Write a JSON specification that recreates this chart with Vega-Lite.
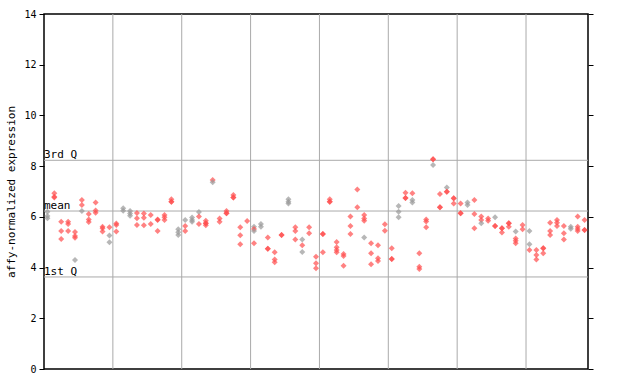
{
  "$schema": "https://vega.github.io/schema/vega-lite/v6.json",
  "autosize": "none",
  "width": 544,
  "height": 355,
  "padding": {"left": 44, "top": 14, "right": 52, "bottom": 15},
  "background": "white",
  "config": {
    "view": {"stroke": "black", "strokeWidth": 1.5},
    "font": "DejaVu Sans Mono"
  },
  "datasets": {
    "vgrid": [{"x": 9.5}, {"x": 19.5}, {"x": 29.5}, {"x": 39.5}, {"x": 49.5}, {"x": 59.5}, {"x": 69.5}],
    "hlines": [{"y": 8.23, "label": "3rd Q"}, {"y": 6.23, "label": "mean"}, {"y": 3.63, "label": "1st Q"}],
    "pts": [
      {"s": 0, "v": 6.2, "c": "g"}, {"s": 0, "v": 6.03, "c": "g"}, {"s": 0, "v": 5.95, "c": "g"},
      {"s": 1, "v": 6.93, "c": "r"}, {"s": 1, "v": 6.79, "c": "r"}, {"s": 1, "v": 6.76, "c": "r"},
      {"s": 2, "v": 5.81, "c": "r"}, {"s": 2, "v": 5.44, "c": "r"}, {"s": 2, "v": 5.13, "c": "r"},
      {"s": 3, "v": 5.81, "c": "r"}, {"s": 3, "v": 5.72, "c": "r"}, {"s": 3, "v": 5.44, "c": "r"},
      {"s": 4, "v": 5.4, "c": "r"}, {"s": 4, "v": 5.25, "c": "r"}, {"s": 4, "v": 5.18, "c": "r"}, {"s": 4, "v": 4.3, "c": "g"},
      {"s": 5, "v": 6.66, "c": "r"}, {"s": 5, "v": 6.47, "c": "r"}, {"s": 5, "v": 6.23, "c": "g"},
      {"s": 6, "v": 6.11, "c": "r"}, {"s": 6, "v": 5.9, "c": "r"}, {"s": 6, "v": 5.8, "c": "r"},
      {"s": 7, "v": 6.57, "c": "r"}, {"s": 7, "v": 6.25, "c": "r"}, {"s": 7, "v": 6.16, "c": "r"},
      {"s": 8, "v": 5.61, "c": "r"}, {"s": 8, "v": 5.55, "c": "r"}, {"s": 8, "v": 5.42, "c": "r"},
      {"s": 9, "v": 5.59, "c": "r"}, {"s": 9, "v": 5.26, "c": "g"}, {"s": 9, "v": 5.0, "c": "g"},
      {"s": 10, "v": 5.74, "c": "r"}, {"s": 10, "v": 5.68, "c": "r"}, {"s": 10, "v": 5.42, "c": "r"},
      {"s": 11, "v": 6.34, "c": "g"}, {"s": 11, "v": 6.24, "c": "g"},
      {"s": 12, "v": 6.23, "c": "g"}, {"s": 12, "v": 6.13, "c": "g"}, {"s": 12, "v": 6.04, "c": "g"},
      {"s": 13, "v": 6.15, "c": "r"}, {"s": 13, "v": 5.95, "c": "r"}, {"s": 13, "v": 5.68, "c": "r"},
      {"s": 14, "v": 6.13, "c": "r"}, {"s": 14, "v": 5.96, "c": "r"}, {"s": 14, "v": 5.67, "c": "r"},
      {"s": 15, "v": 6.07, "c": "r"}, {"s": 15, "v": 5.72, "c": "r"},
      {"s": 16, "v": 5.9, "c": "r"}, {"s": 16, "v": 5.88, "c": "r"}, {"s": 16, "v": 5.44, "c": "r"},
      {"s": 17, "v": 6.07, "c": "r"}, {"s": 17, "v": 5.98, "c": "r"}, {"s": 17, "v": 5.88, "c": "r"},
      {"s": 18, "v": 6.69, "c": "r"}, {"s": 18, "v": 6.6, "c": "r"}, {"s": 18, "v": 6.6, "c": "r"},
      {"s": 19, "v": 5.51, "c": "g"}, {"s": 19, "v": 5.39, "c": "g"}, {"s": 19, "v": 5.28, "c": "g"},
      {"s": 20, "v": 5.88, "c": "g"}, {"s": 20, "v": 5.64, "c": "r"}, {"s": 20, "v": 5.44, "c": "r"},
      {"s": 21, "v": 5.97, "c": "g"}, {"s": 21, "v": 5.88, "c": "g"}, {"s": 21, "v": 5.81, "c": "g"},
      {"s": 22, "v": 6.19, "c": "g"}, {"s": 22, "v": 6.01, "c": "r"}, {"s": 22, "v": 5.72, "c": "r"},
      {"s": 23, "v": 5.85, "c": "r"}, {"s": 23, "v": 5.75, "c": "r"}, {"s": 23, "v": 5.75, "c": "r"}, {"s": 23, "v": 5.67, "c": "r"},
      {"s": 24, "v": 7.45, "c": "r"}, {"s": 24, "v": 7.36, "c": "g"},
      {"s": 25, "v": 5.94, "c": "r"}, {"s": 25, "v": 5.81, "c": "r"},
      {"s": 26, "v": 6.23, "c": "r"}, {"s": 26, "v": 6.14, "c": "r"}, {"s": 26, "v": 6.14, "c": "r"},
      {"s": 27, "v": 6.86, "c": "r"}, {"s": 27, "v": 6.76, "c": "r"}, {"s": 27, "v": 6.76, "c": "r"},
      {"s": 28, "v": 5.59, "c": "r"}, {"s": 28, "v": 5.27, "c": "r"}, {"s": 28, "v": 4.92, "c": "r"},
      {"s": 29, "v": 5.84, "c": "r"},
      {"s": 30, "v": 5.61, "c": "g"}, {"s": 30, "v": 5.52, "c": "r"}, {"s": 30, "v": 5.44, "c": "g"}, {"s": 30, "v": 4.96, "c": "r"},
      {"s": 31, "v": 5.72, "c": "g"}, {"s": 31, "v": 5.61, "c": "g"},
      {"s": 32, "v": 5.19, "c": "r"}, {"s": 32, "v": 4.74, "c": "r"}, {"s": 32, "v": 4.74, "c": "r"},
      {"s": 33, "v": 4.6, "c": "r"}, {"s": 33, "v": 4.32, "c": "r"}, {"s": 33, "v": 4.21, "c": "r"},
      {"s": 34, "v": 5.28, "c": "r"}, {"s": 34, "v": 5.28, "c": "r"},
      {"s": 35, "v": 6.69, "c": "g"}, {"s": 35, "v": 6.6, "c": "g"}, {"s": 35, "v": 6.53, "c": "g"},
      {"s": 36, "v": 5.59, "c": "r"}, {"s": 36, "v": 5.44, "c": "r"}, {"s": 36, "v": 5.11, "c": "r"},
      {"s": 37, "v": 5.11, "c": "g"}, {"s": 37, "v": 4.88, "c": "r"}, {"s": 37, "v": 4.61, "c": "g"},
      {"s": 38, "v": 5.59, "c": "r"}, {"s": 38, "v": 5.35, "c": "r"},
      {"s": 39, "v": 4.43, "c": "r"}, {"s": 39, "v": 4.17, "c": "r"}, {"s": 39, "v": 3.97, "c": "r"},
      {"s": 40, "v": 5.32, "c": "r"}, {"s": 40, "v": 5.32, "c": "r"}, {"s": 40, "v": 4.6, "c": "r"},
      {"s": 41, "v": 6.69, "c": "r"}, {"s": 41, "v": 6.6, "c": "r"}, {"s": 41, "v": 6.6, "c": "r"},
      {"s": 42, "v": 5.01, "c": "r"}, {"s": 42, "v": 4.8, "c": "r"}, {"s": 42, "v": 4.69, "c": "r"}, {"s": 42, "v": 4.6, "c": "r"},
      {"s": 43, "v": 4.54, "c": "r"}, {"s": 43, "v": 4.46, "c": "r"}, {"s": 43, "v": 4.07, "c": "r"},
      {"s": 44, "v": 6.01, "c": "r"}, {"s": 44, "v": 5.64, "c": "r"}, {"s": 44, "v": 5.32, "c": "r"},
      {"s": 45, "v": 7.08, "c": "r"}, {"s": 45, "v": 6.38, "c": "r"},
      {"s": 46, "v": 6.07, "c": "r"}, {"s": 46, "v": 5.94, "c": "r"}, {"s": 46, "v": 5.85, "c": "r"}, {"s": 46, "v": 5.19, "c": "g"},
      {"s": 47, "v": 4.96, "c": "r"}, {"s": 47, "v": 4.56, "c": "r"}, {"s": 47, "v": 4.13, "c": "r"},
      {"s": 48, "v": 4.88, "c": "r"}, {"s": 48, "v": 4.37, "c": "r"}, {"s": 48, "v": 4.26, "c": "r"},
      {"s": 49, "v": 5.71, "c": "r"}, {"s": 49, "v": 5.45, "c": "r"},
      {"s": 50, "v": 4.76, "c": "r"}, {"s": 50, "v": 4.34, "c": "r"}, {"s": 50, "v": 4.34, "c": "r"},
      {"s": 51, "v": 6.43, "c": "g"}, {"s": 51, "v": 6.2, "c": "g"}, {"s": 51, "v": 5.98, "c": "g"},
      {"s": 52, "v": 6.95, "c": "r"}, {"s": 52, "v": 6.74, "c": "r"}, {"s": 52, "v": 6.74, "c": "r"},
      {"s": 53, "v": 6.93, "c": "r"}, {"s": 53, "v": 6.66, "c": "g"}, {"s": 53, "v": 6.57, "c": "g"},
      {"s": 54, "v": 4.56, "c": "r"}, {"s": 54, "v": 4.03, "c": "r"}, {"s": 54, "v": 3.94, "c": "r"},
      {"s": 55, "v": 5.9, "c": "r"}, {"s": 55, "v": 5.82, "c": "r"}, {"s": 55, "v": 5.59, "c": "r"},
      {"s": 56, "v": 8.27, "c": "r"}, {"s": 56, "v": 8.27, "c": "r"}, {"s": 56, "v": 8.05, "c": "g"},
      {"s": 57, "v": 6.9, "c": "r"}, {"s": 57, "v": 6.38, "c": "r"}, {"s": 57, "v": 6.38, "c": "r"},
      {"s": 58, "v": 7.16, "c": "g"}, {"s": 58, "v": 6.99, "c": "r"}, {"s": 58, "v": 6.99, "c": "r"},
      {"s": 59, "v": 6.73, "c": "r"}, {"s": 59, "v": 6.73, "c": "r"}, {"s": 59, "v": 6.53, "c": "r"},
      {"s": 60, "v": 6.53, "c": "r"}, {"s": 60, "v": 6.14, "c": "r"}, {"s": 60, "v": 6.14, "c": "r"},
      {"s": 61, "v": 6.57, "c": "g"}, {"s": 61, "v": 6.47, "c": "g"},
      {"s": 62, "v": 6.66, "c": "r"}, {"s": 62, "v": 6.11, "c": "r"}, {"s": 62, "v": 5.55, "c": "r"},
      {"s": 63, "v": 6.01, "c": "r"}, {"s": 63, "v": 5.88, "c": "r"}, {"s": 63, "v": 5.75, "c": "g"},
      {"s": 64, "v": 5.94, "c": "r"}, {"s": 64, "v": 5.85, "c": "r"},
      {"s": 65, "v": 5.98, "c": "g"}, {"s": 65, "v": 5.64, "c": "r"}, {"s": 65, "v": 5.64, "c": "r"},
      {"s": 66, "v": 5.55, "c": "r"}, {"s": 66, "v": 5.55, "c": "r"}, {"s": 66, "v": 5.38, "c": "r"},
      {"s": 67, "v": 5.75, "c": "r"}, {"s": 67, "v": 5.75, "c": "r"}, {"s": 67, "v": 5.61, "c": "r"},
      {"s": 68, "v": 5.42, "c": "g"}, {"s": 68, "v": 5.15, "c": "r"}, {"s": 68, "v": 5.06, "c": "r"}, {"s": 68, "v": 4.96, "c": "r"},
      {"s": 69, "v": 5.68, "c": "r"}, {"s": 69, "v": 5.51, "c": "r"},
      {"s": 70, "v": 5.44, "c": "g"}, {"s": 70, "v": 4.92, "c": "g"}, {"s": 70, "v": 4.69, "c": "r"},
      {"s": 71, "v": 4.69, "c": "r"}, {"s": 71, "v": 4.5, "c": "r"}, {"s": 71, "v": 4.32, "c": "r"},
      {"s": 72, "v": 4.76, "c": "r"}, {"s": 72, "v": 4.76, "c": "r"}, {"s": 72, "v": 4.56, "c": "r"},
      {"s": 73, "v": 5.77, "c": "r"}, {"s": 73, "v": 5.44, "c": "r"}, {"s": 73, "v": 5.28, "c": "r"},
      {"s": 74, "v": 5.88, "c": "r"}, {"s": 74, "v": 5.77, "c": "r"}, {"s": 74, "v": 5.64, "c": "r"},
      {"s": 75, "v": 5.64, "c": "r"}, {"s": 75, "v": 5.35, "c": "r"}, {"s": 75, "v": 5.11, "c": "r"},
      {"s": 76, "v": 5.61, "c": "g"}, {"s": 76, "v": 5.53, "c": "g"},
      {"s": 77, "v": 6.01, "c": "r"}, {"s": 77, "v": 5.61, "c": "r"}, {"s": 77, "v": 5.52, "c": "r"}, {"s": 77, "v": 5.44, "c": "r"},
      {"s": 78, "v": 5.88, "c": "r"}, {"s": 78, "v": 5.48, "c": "r"}, {"s": 78, "v": 5.48, "c": "r"}
    ]
  },
  "resolve": {"axis": {"y": "independent"}},
  "layer": [
    {
      "data": {"name": "vgrid"},
      "mark": {"type": "rule", "color": "#aaaaaa", "strokeWidth": 1},
      "encoding": {
        "x": {"field": "x", "type": "quantitative", "scale": {"domain": [-0.5, 78.5], "nice": false, "zero": false}, "axis": null}
      }
    },
    {
      "data": {"name": "hlines"},
      "mark": {"type": "rule", "color": "#aaaaaa", "strokeWidth": 1},
      "encoding": {
        "y": {"field": "y", "type": "quantitative", "scale": {"domain": [0, 14], "nice": false},
          "axis": {"orient": "left", "values": [0, 2, 4, 6, 8, 10, 12, 14], "grid": false, "domain": false, "tickSize": 5, "tickColor": "black", "labelFont": "DejaVu Sans Mono", "labelFontSize": 10, "labelColor": "black", "labelPadding": 3, "title": "affy-normalized expression", "titleFont": "DejaVu Sans Mono", "titleFontSize": 11, "titleFontWeight": "normal", "titleColor": "black", "titlePadding": 7}}
      }
    },
    {
      "data": {"name": "hlines"},
      "mark": {"type": "text", "align": "left", "baseline": "bottom", "dy": 0, "font": "DejaVu Sans Mono", "fontSize": 11, "color": "black"},
      "encoding": {
        "x": {"datum": -0.5, "type": "quantitative"},
        "y": {"field": "y", "type": "quantitative", "axis": {"orient": "right", "values": [0, 2, 4, 6, 8, 10, 12, 14], "grid": false, "domain": false, "labels": false, "tickSize": 5, "tickColor": "black", "title": null}},
        "text": {"field": "label"}
      }
    },
    {
      "data": {"name": "pts"},
      "mark": {"type": "point", "shape": "diamond", "filled": true, "size": 36, "opacity": 0.7},
      "encoding": {
        "x": {"field": "s", "type": "quantitative"},
        "y": {"field": "v", "type": "quantitative", "axis": null},
        "color": {"field": "c", "type": "nominal", "scale": {"domain": ["r", "g"], "range": ["#ff4d4d", "#999999"]}, "legend": null}
      }
    }
  ]
}
